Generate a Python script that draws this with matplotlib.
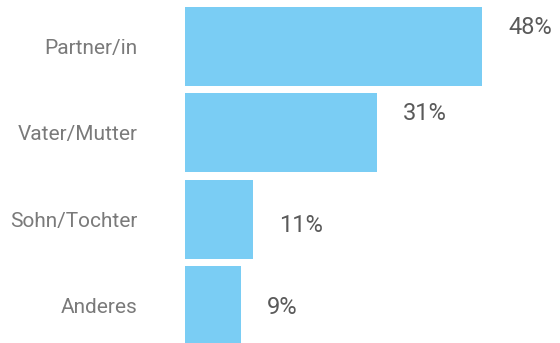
import matplotlib
matplotlib.use("Agg")
import matplotlib.pyplot as plt

categories = ["Partner/in", "Vater/Mutter", "Sohn/Tochter", "Anderes"]
values = [48, 31, 11, 9]
value_labels = ["48%", "31%", "11%", "9%"]

# layout: vertical nudge of value labels (in bar units)
label_dy = [-0.22, -0.22, 0.07, 0.03]

plt.rcParams['font.family'] = ['Roboto', 'DejaVu Sans']

W, H = 560, 343
fig = plt.figure(figsize=(W / 100, H / 100), dpi=100)
ax = fig.add_axes([185 / W, 0, 1 - 185 / W, 1])

pos = list(range(len(categories)))
ax.barh(pos, values, height=0.915, color="#7ACDF4", edgecolor="none")
ax.set_xlim(0, (W - 185) / 6.19)
ax.set_ylim(3.436, -0.539)

for p, v, lab, dy in zip(pos, values, value_labels, label_dy):
    ax.text(v + 4.2, p + dy, lab, ha="left", va="center", fontsize=17,
            color="#5a5a5a", fontweight="normal")

ax.set_yticks(pos)
ax.set_yticklabels(categories, fontsize=15, color="#7a7a7a", fontweight="normal")
ax.tick_params(axis="y", length=0, pad=34)
ax.set_xticks([])
for s in ax.spines.values():
    s.set_visible(False)

fig.savefig("out.png", dpi=100)
